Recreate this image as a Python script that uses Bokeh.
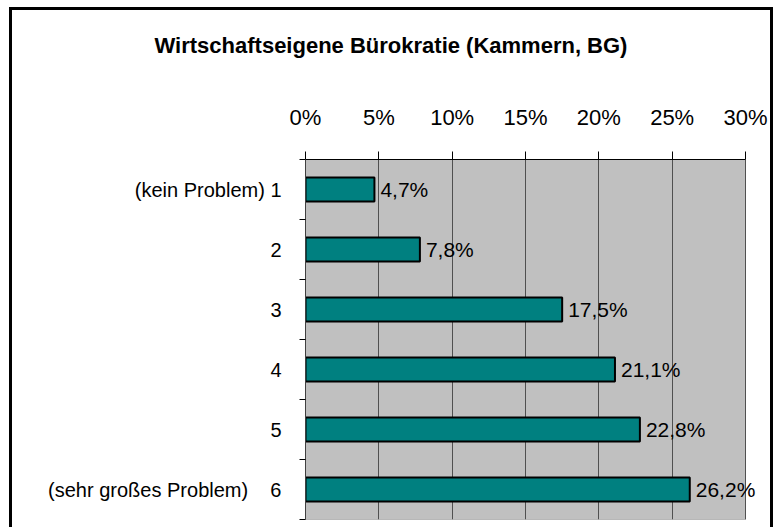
from bokeh.plotting import figure
from bokeh.models import Range1d, FixedTicker, LabelSet, ColumnDataSource, Div
from bokeh.layouts import column
from bokeh.core.properties import value
from bokeh.embed import file_html
from bokeh.resources import INLINE

categories = ["(kein Problem) 1", "2", "3", "4", "5", "(sehr großes Problem)\u00a0\u00a0\u00a0\u00a06"]
values = [4.7, 7.8, 17.5, 21.1, 22.8, 26.2]
value_labels = ["4,7%", "7,8%", "17,5%", "21,1%", "22,8%", "26,2%"]
x_ticks = [0, 5, 10, 15, 20, 25, 30]
x_tick_labels = ["0%", "5%", "10%", "15%", "20%", "25%", "30%"]
title_text = "Wirtschaftseigene Bürokratie (Kammern, BG)"

FONT = "Liberation Sans"
W = 758
TITLE_H = 68
H = 520 - TITLE_H
X_END = 31.5           # room to the right of the 30% edge for the outside value label
PX_PER_UNIT = 440 / 30
FRAME_LEFT = 293
frame_right = FRAME_LEFT + round(PX_PER_UNIT * X_END)

centers = [i + 0.5 for i in range(len(categories))]
src = ColumnDataSource(dict(y=centers, v=values, lab=value_labels))

title = Div(text=title_text, width=W, height=TITLE_H, margin=(0, 0, 0, 0),
            styles={"font-family": FONT, "font-size": "22px", "font-weight": "bold",
                    "text-align": "center", "line-height": "72px",
                    "color": "black", "background-color": "white"})

p = figure(width=W, height=H, output_backend="svg", toolbar_location=None,
           x_range=Range1d(0, X_END), y_range=Range1d(len(categories), 0),
           x_axis_location="above", margin=(0, 0, 0, 0),
           min_border_left=FRAME_LEFT, min_border_right=W - frame_right,
           min_border_top=149 - TITLE_H, min_border_bottom=H - (509 - TITLE_H))

p.background_fill_color = "white"
p.border_fill_color = "white"
p.outline_line_color = None

# grey plot area from the first to the last tick
p.quad(left=[x_ticks[0]], right=[x_ticks[-1]], bottom=[len(categories)], top=[0],
       fill_color="#C0C0C0", line_color="#808080", line_width=1, level="image")

p.hbar(y="y", right="v", left=0, height=0.4, source=src, fill_color="#008080",
       line_color="black", line_width=2)
p.add_layout(LabelSet(x="v", y="y", text="lab", source=src, x_offset=6,
                      text_align="left", text_baseline="middle",
                      text_font=value(FONT), text_font_size="21px", text_color="black"))

# x axis (top)
xa = p.xaxis[0]
xa.ticker = FixedTicker(ticks=x_ticks)
xa.bounds = (x_ticks[0], x_ticks[-1])
xa.major_label_overrides = {t: l for t, l in zip(x_ticks, x_tick_labels)}
xa.major_label_text_font = FONT
xa.major_label_text_font_size = "22px"
xa.major_label_text_color = "black"
xa.major_tick_out = 8
xa.major_tick_in = 0
xa.major_tick_line_color = "black"
xa.minor_tick_line_color = None
xa.axis_line_color = "black"
xa.major_label_standoff = 22

# y axis (left)
ya = p.yaxis[0]
ya.ticker = FixedTicker(ticks=centers, minor_ticks=list(range(len(categories) + 1)))
ya.major_label_overrides = {c: l for c, l in zip(centers, categories)}
ya.major_label_text_font = FONT
ya.major_label_text_font_size = "20px"
ya.major_label_text_color = "black"
ya.major_tick_out = 0
ya.major_tick_in = 0
ya.minor_tick_out = 6
ya.minor_tick_in = 0
ya.minor_tick_line_color = "black"
ya.axis_line_color = "#404040"
ya.major_label_standoff = 18

p.xgrid.ticker = FixedTicker(ticks=x_ticks)
p.xgrid.grid_line_color = "#505050"
p.xgrid.grid_line_width = 1
p.ygrid.grid_line_color = None

layout = column(title, p, spacing=0)
layout.styles = {"margin-left": "12px", "margin-top": "10px",
                 "box-shadow": "-3px -3px 0 0 black, 3px -3px 0 0 black"}

open("out.html", "w").write(file_html(layout, INLINE))
